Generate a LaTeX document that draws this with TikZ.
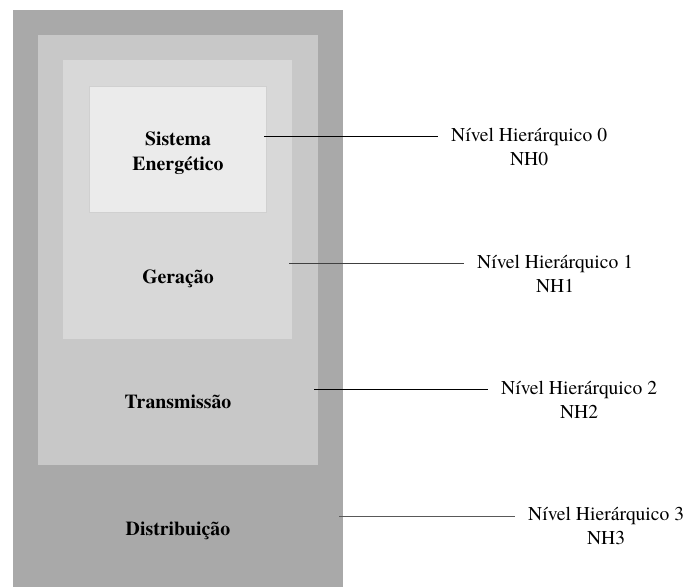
\documentclass[tikz,border=0pt]{standalone}
\usepackage{fontspec}
\setmainfont{texgyretermes}[Extension=.otf,UprightFont=*-regular,BoldFont=*-bold]
\begin{document}
\begin{tikzpicture}[x=1pt,y=-1pt,
  layer/.style={draw=none,inner sep=0pt,outer sep=0pt,anchor=north west},
  levelname/.style={font=\fontsize{19.8}{25}\selectfont\bfseries,align=center,inner sep=0pt,anchor=base},
  levelnote/.style={font=\fontsize{19.6}{24}\selectfont,align=center,inner sep=0pt,anchor=base west},
  leader/.style={line width=0.9pt,shorten >=13pt}]
  \useasboundingbox (0,0) rectangle (688,588);
  \fill[white] (0,0) rectangle (688,588);

  % nested levels, outermost first
  \node[layer,fill={rgb,255:red,169;green,169;blue,169},minimum width=330pt,minimum height=577pt] (d) at (13,10) {};
  \node[layer,fill={rgb,255:red,200;green,200;blue,200},minimum width=280pt,minimum height=430pt] (tr) at (38,35) {};
  \node[layer,fill={rgb,255:red,216;green,216;blue,216},minimum width=229pt,minimum height=279pt] (g) at (63,60) {};
  \node[layer,fill={rgb,255:red,235;green,235;blue,235},draw={rgb,255:red,208;green,208;blue,208},line width=0.6pt,minimum width=177pt,minimum height=126pt] (se) at (89,86) {};

  % level names (base = baseline of the last line)
  \node[levelname] (t0) at (178,171) {Sistema\\Energético};
  \node[levelname] (t1) at (178,283) {Geração};
  \node[levelname] (t2) at (178,408) {Transmissão};
  \node[levelname] (t3) at (178,535) {Distribuição};

  % hierarchy labels
  \node[levelnote] (n0) at (451,166) {Nível Hierárquico 0\\NH0};
  \node[levelnote] (n1) at (477,292) {Nível Hierárquico 1\\NH1};
  \node[levelnote] (n2) at (501,418) {Nível Hierárquico 2\\NH2};
  \node[levelnote] (n3) at (528,544) {Nível Hierárquico 3\\NH3};

  % leader lines start just inside each level's right edge
  \coordinate (s0) at (264,136);
  \coordinate (s1) at (289,263);
  \coordinate (s2) at (314,389);
  \coordinate (s3) at (339,516);
  \draw[leader,black] (s0) -- (s0 -| n0.west);
  \draw[leader,black!75] (s1) -- (s1 -| n1.west);
  \draw[leader,black] (s2) -- (s2 -| n2.west);
  \draw[leader,black!65] (s3) -- (s3 -| n3.west);
\end{tikzpicture}
\end{document}
